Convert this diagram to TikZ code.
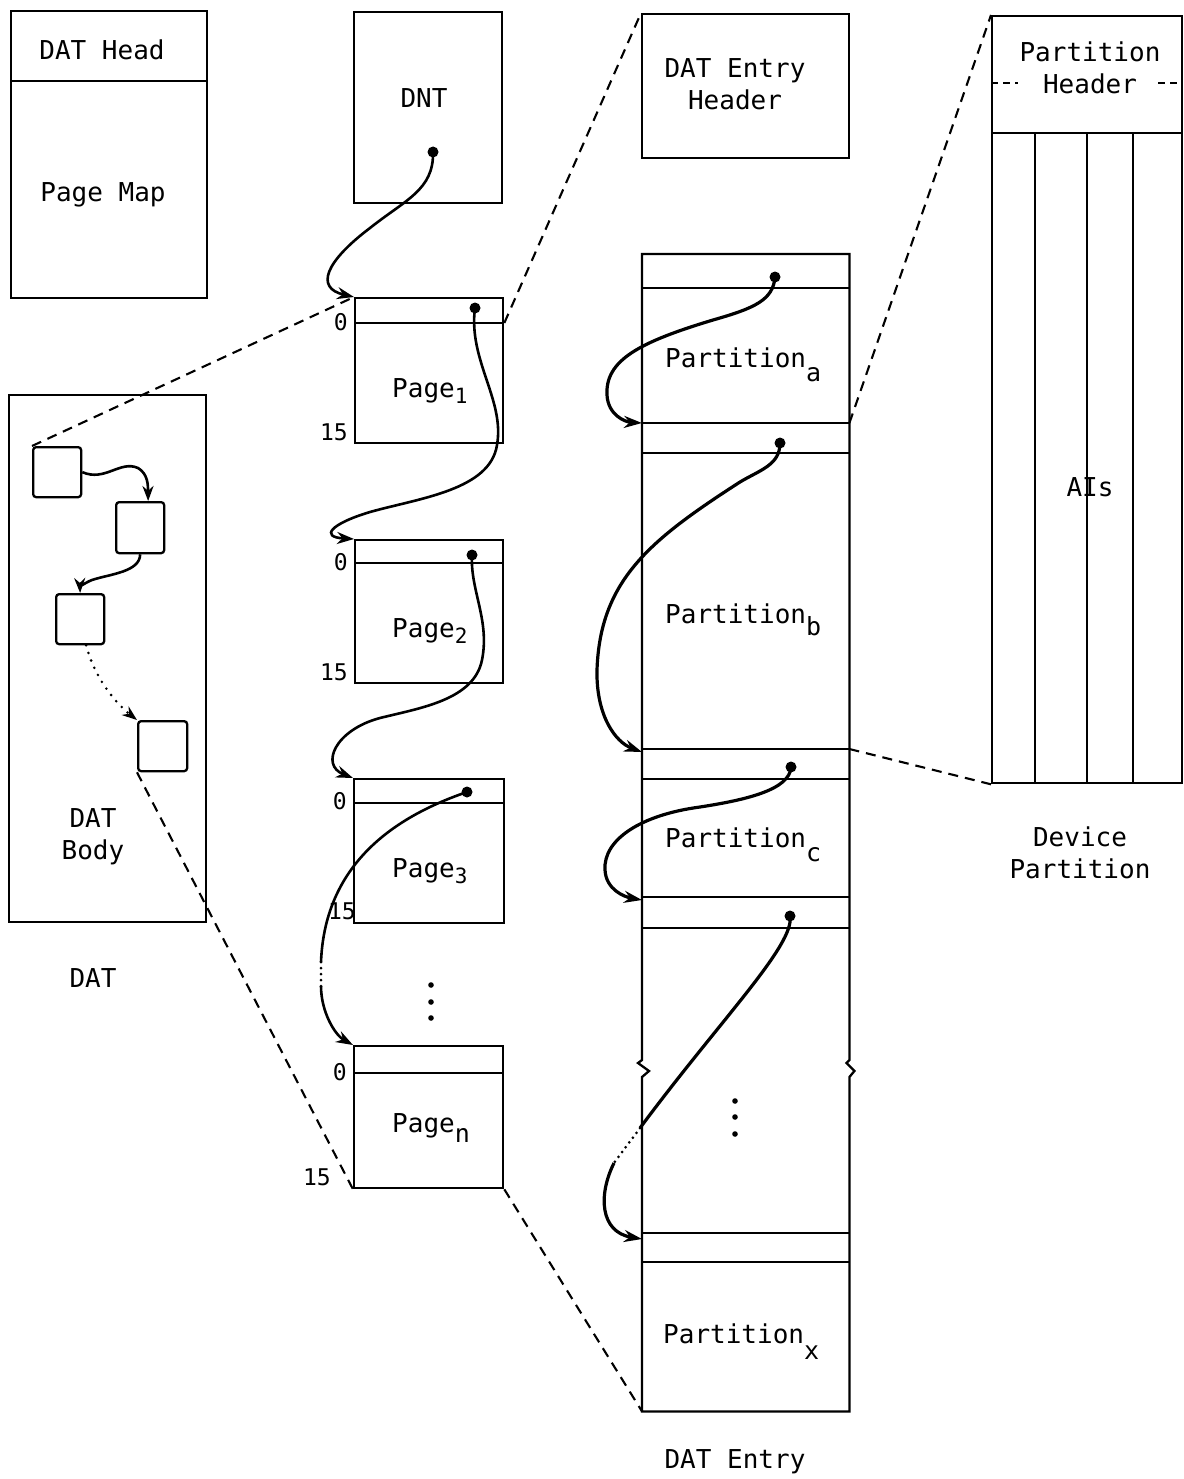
\documentclass[tikz,border=0pt]{standalone}
\usepackage{fontspec}
\setmonofont{DejaVu Sans Mono}
\usetikzlibrary{arrows.meta}
\newcommand\pgsub[2][6pt]{\raisebox{-#1}{\fontsize{21}{21}\selectfont #2}}
\newcommand\ptsub[2][14pt]{\raisebox{-#1}{\fontsize{25}{25}\selectfont #2}}
\tikzset{
  frame/.style={draw, line width=2.3pt, inner sep=0pt, anchor=north west},
  sbox/.style={frame, rounded corners=3pt, minimum width=48pt, minimum height=50pt},
  lbl/.style={inner sep=0pt, font=\ttfamily\fontsize{26}{32}\selectfont, align=center},
  num/.style={inner sep=0pt, anchor=east, font=\ttfamily\fontsize{23}{23}\selectfont},
  rule/.style={line width=2.3pt},
  curve/.style={line width=2.6pt},
  ecurve/.style={line width=3.2pt},
  ptr/.style={curve, -{Stealth[length=17pt,width=12pt]}},
  eptr/.style={ecurve, -{Stealth[length=18pt,width=12pt]}},
  sptr/.style={line width=2.6pt, -{Stealth[length=15pt,width=11pt]}},
  dotlink/.style={line width=3pt, line cap=round, dash pattern=on 0pt off 6pt},
  dotarrow/.style={line width=2.8pt, line cap=round, dash pattern=on 0pt off 8pt, -{Stealth[length=15pt,width=11pt]}},
  zoomline/.style={line width=2.1pt, dash pattern=on 10pt off 7pt},
  hdash/.style={line width=1.6pt, dash pattern=on 7pt off 5pt},
}
\begin{document}
\begin{tikzpicture}[x=1pt,y=-1pt]
\useasboundingbox (0,0) rectangle (1183,1479);

% ---------------- DAT ----------------
\node[frame, minimum width=196pt, minimum height=287pt] (head) at (10,10) {};
\draw[rule] (head.west |- 0,81) -- (head.east |- 0,81);
\node[lbl] (headt) at (102,50) {DAT Head};
\node[lbl] (pmap) at (103,195) {Page Map};

\node[frame, minimum width=197pt, minimum height=527pt] (body) at (8,394) {};
\node[sbox] (b1) at (32,446) {};
\node[sbox, minimum height=51pt] (b2) at (115,501) {};
\node[sbox] (b3) at (55,593) {};
\node[sbox, minimum width=49pt] (b4) at (137,720) {};
\node[lbl] (bodyt) at (93,837) {DAT\\Body};
\node[lbl] (datt) at (93,978) {DAT};

\draw[sptr] (b1.east) .. controls (105,482) and (120,460) .. (138,468) .. controls (148,474) and (148,485) .. ([xshift=8pt]b2.north);
\draw[sptr] (b2.south) .. controls (140,572) and (110,574) .. (92,580) .. controls (84,583) and (80,588) .. (b3.north);
\draw[dotarrow] ([xshift=6pt]b3.south) .. controls (95,680) and (118,705) .. (b4.north west);

% ---------------- DNT and pages ----------------
\node[frame, minimum width=148pt, minimum height=191pt] (dnt) at (353,11) {};
\node[lbl] (dntt) at (424,98) {DNT};
\coordinate (d0) at (433,152);

\node[frame, minimum width=148pt, minimum height=145pt] (p1) at (354,297) {};
\draw[rule] (p1.west |- 0,323) -- (p1.east |- 0,323);
\coordinate (p1r) at (p1.east |- 0,323);
\node[lbl, anchor=base west] (p1t) at (392,397) {Page\pgsub{1}};
\node[num] (p1a) at (348,322) {0};
\node[num] (p1b) at (348,432) {15};
\coordinate (d1) at (475,308);

\node[frame, minimum width=148pt, minimum height=143pt] (p2) at (354,539) {};
\draw[rule] (p2.west |- 0,563) -- (p2.east |- 0,563);
\node[lbl, anchor=base west] (p2t) at (392,637) {Page\pgsub{2}};
\node[num] (p2a) at (348,562) {0};
\node[num] (p2b) at (348,672) {15};
\coordinate (d2) at (472,555);

\node[frame, minimum width=150pt, minimum height=144pt] (p3) at (353,778) {};
\draw[rule] (p3.west |- 0,803) -- (p3.east |- 0,803);
\node[lbl, anchor=base west] (p3t) at (392,877) {Page\pgsub{3}};
\node[num] (p3a) at (347,801) {0};
\node[num] (p3b) at (356,911) {15};
\coordinate (d3) at (467,792);

\fill (431,985) circle (2.8pt);
\fill (431,1002) circle (2.8pt);
\fill (431,1018) circle (2.8pt);

\node[frame, minimum width=149pt, minimum height=142pt] (pn) at (353,1045) {};
\draw[rule] (pn.west |- 0,1073) -- (pn.east |- 0,1073);
\node[lbl, anchor=base west] (pnt) at (392,1132) {Page\pgsub[10pt]{\fontsize{25}{25}\selectfont n}};
\node[num] (pna) at (347,1072) {0};
\node[num] (pnb) at (331,1177) {15};

% page chain
\draw[ptr] (d0) .. controls (434,190) and (405,200) .. (370,228) .. controls (325,262) and (315,288) .. (p1.north west);
\draw[ptr] (d1) .. controls (468,360) and (505,400) .. (497,445) .. controls (490,490) and (420,498) .. (370,512) .. controls (330,524) and (320,537) .. (p2.north west);
\draw[ptr] (d2) .. controls (470,590) and (490,620) .. (482,660) .. controls (474,700) and (420,708) .. (380,718) .. controls (335,730) and (320,765) .. (p3.north west);
\coordinate (c3a) at (321,962);
\coordinate (c3b) at (321,986);
\draw[curve] (d3) .. controls (400,815) and (325,860) .. (c3a);
\draw[dotlink] (c3a) -- (c3b);
\draw[ptr] (c3b) .. controls (321,1012) and (335,1035) .. (pn.north west);
\foreach \p in {d0,d1,d2,d3} \fill (\p) circle (5.5pt);

% ---------------- DAT Entry ----------------
\node[frame, minimum width=207pt, minimum height=144pt] (deh) at (641,13) {};
\node[lbl] (deht) at (735,84) {DAT Entry\\Header};

\node[inner sep=0pt, anchor=north west, minimum width=207pt, minimum height=1157pt] (de) at (642,254) {};
\draw[rule] (de.north west) -- (de.north east) -- (de.east |- 0,1060) -- ++(-3,3) -- ++(8,8) -- ++(-5,6)
  -- (de.south east) -- (de.south west) -- (de.west |- 0,1077) -- ++(7,-6) -- ++(-11,-8) -- ++(4,-3) -- cycle;
\foreach \yy in {288,423,453,749,779,897,928,1233,1262}
  \draw[rule] (de.west |- 0,\yy) -- (de.east |- 0,\yy);

\node[lbl, anchor=base west] (pa) at (665,367) {Partition\ptsub{a}};
\node[lbl, anchor=base west] (pb) at (665,623) {Partition\ptsub[12pt]{b}};
\node[lbl, anchor=base west] (pc) at (665,847) {Partition\ptsub{c}};
\node[lbl, anchor=base west] (px) at (663,1343) {Partition\ptsub[16pt]{x}};
\fill (735,1101) circle (2.8pt);
\fill (735,1117) circle (2.8pt);
\fill (735,1134) circle (2.8pt);
\node[lbl] (det) at (735,1462) {DAT Entry};

\coordinate (ea) at (775,277);
\coordinate (eb) at (780,443);
\coordinate (ec) at (791,767);
\coordinate (ed) at (790,916);
\coordinate (la) at (de.west |- 0,423);
\coordinate (lb) at (de.west |- 0,752);
\coordinate (lc) at (de.west |- 0,900);
\coordinate (ld) at (de.west |- 0,1239);
\coordinate (e1) at (640,1128);
\coordinate (e2) at (614,1163);
\draw[eptr] (ea) .. controls (773,300) and (755,308) .. (713,320) .. controls (640,342) and (605,360) .. (607,395) .. controls (608,415) and (625,422) .. (la);
\draw[eptr] (eb) .. controls (780,465) and (760,470) .. (740,482) .. controls (650,540) and (600,580) .. (597,670) .. controls (596,715) and (615,742) .. (lb);
\draw[eptr] (ec) .. controls (790,790) and (745,800) .. (700,807) .. controls (640,815) and (603,840) .. (605,870) .. controls (606,890) and (625,897) .. (lc);
\draw[ecurve] (ed) .. controls (795,945) and (720,1020) .. (e1);
\draw[dotlink] (e1) -- (e2);
\draw[eptr] (e2) .. controls (598,1195) and (600,1232) .. (ld);
\foreach \p in {ea,eb,ec,ed} \fill (\p) circle (5.5pt);

% ---------------- Device Partition ----------------
\node[frame, minimum width=190pt, minimum height=767pt] (dp) at (991,15) {};
\draw[rule] (dp.west |- 0,133) -- (dp.east |- 0,133);
\foreach \xx in {1035,1087,1133}
  \draw[rule] (\xx,133) -- (\xx,782);
\node[lbl] (pht) at (1090,68) {Partition\\Header};
\draw[hdash] (dp.west |- 0,83) -- (1018,83);
\draw[hdash] (1158,83) -- (dp.east |- 0,83);
\node[lbl] (ais) at (1090,487) {AIs};
\node[lbl] (dpt) at (1080,853) {Device\\Partition};

% ---------------- zoom lines ----------------
\coordinate (ra) at (de.east |- 0,423);
\coordinate (rb) at (de.east |- 0,749);
\draw[zoomline] (b1.north west) -- (p1.north west);
\draw[zoomline] (b4.south west) -- (pn.south west);
\draw[zoomline] (p1r) -- (deh.north west);
\draw[zoomline] (pn.south east) -- (de.south west);
\draw[zoomline] (ra) -- (dp.north west);
\draw[zoomline] (rb) -- (dp.south west);
\end{tikzpicture}
\end{document}
